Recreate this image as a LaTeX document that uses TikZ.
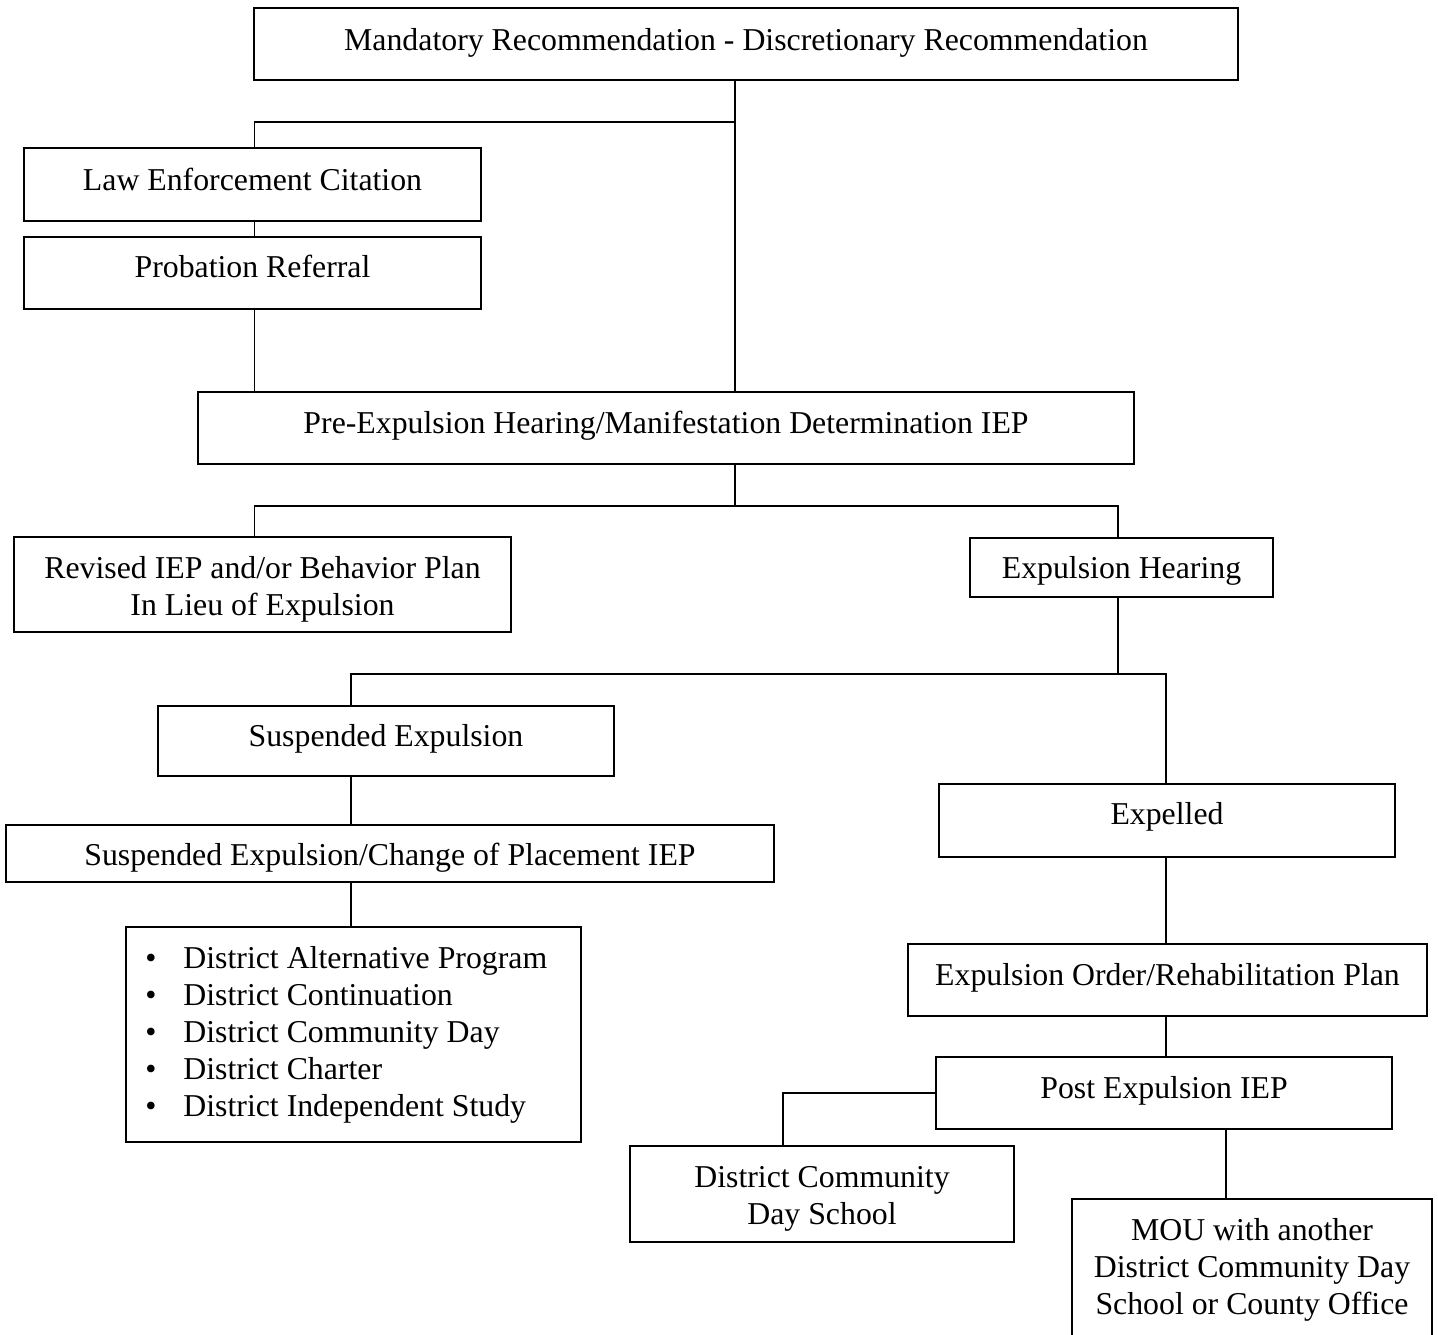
\documentclass[tikz,border=0pt]{standalone}
\usepackage{fontspec}
\setmainfont{Liberation Serif}
\begin{document}
\begin{tikzpicture}[x=0.5pt,y=-0.5pt,
  box/.style={draw, line width=1.1pt, rectangle, inner sep=0pt},
  txt/.style={anchor=base, inner sep=0pt, font=\fontsize{15.9pt}{18.75pt}\selectfont},
  ltxt/.style={anchor=base west, inner sep=0pt, font=\fontsize{15.9pt}{18.75pt}\selectfont},
  conn/.style={line width=0.8pt}]
\useasboundingbox (0,0) rectangle (1438,1334);
\clip (0,0) rectangle (1438,1334);

% boxes
\node[box, minimum width=492pt, minimum height=36pt] (top) at (746,44) {};
\node[box, minimum width=228.5pt, minimum height=36.5pt] (le) at (252.5,184.5) {};
\node[box, minimum width=228.5pt, minimum height=36pt] (pr) at (252.5,273) {};
\node[box, minimum width=468pt, minimum height=36pt] (pre) at (666,428) {};
\node[box, minimum width=248.5pt, minimum height=47.5pt] (rev) at (262.5,584.5) {};
\node[box, minimum width=151.5pt, minimum height=29.5pt] (eh) at (1121.5,567.5) {};
\node[box, minimum width=228pt, minimum height=35pt] (se) at (386,741) {};
\node[box, minimum width=384pt, minimum height=28.5pt] (sec) at (390,853.5) {};
\node[box, minimum width=227.5pt, minimum height=107.5pt] (list) at (353.5,1034.5) {};
\node[box, minimum width=228pt, minimum height=36.5pt] (exp) at (1167,820.5) {};
\node[box, minimum width=259.5pt, minimum height=36pt] (eo) at (1167.5,980) {};
\node[box, minimum width=228pt, minimum height=36pt] (post) at (1164,1093) {};
\node[box, minimum width=192pt, minimum height=48pt] (dcds) at (822,1194) {};
\node[box, minimum width=180pt, minimum height=72.5pt] (mou) at (1252,1271.5) {};

% texts
\node[txt] (t1) at (746,50) {Mandatory Recommendation - Discretionary Recommendation};
\node[txt] (t2) at (252.5,190) {Law Enforcement Citation};
\node[txt] (t3) at (252.5,277) {Probation Referral};
\node[txt] (t4) at (666,433) {Pre-Expulsion Hearing/Manifestation Determination IEP};
\node[txt] (t5a) at (262.5,578) {Revised IEP and/or Behavior Plan};
\node[txt] (t5b) at (262.5,615) {In Lieu of Expulsion};
\node[txt] (t6) at (1121.5,578) {Expulsion Hearing};
\node[txt] (t7) at (386,746) {Suspended Expulsion};
\node[txt] (t8) at (390,865) {Suspended Expulsion/Change of Placement IEP};
\node[txt] (b1) at (151,968) {\textbullet};
\node[txt] (b2) at (151,1005) {\textbullet};
\node[txt] (b3) at (151,1042) {\textbullet};
\node[txt] (b4) at (151,1079) {\textbullet};
\node[txt] (b5) at (151,1116) {\textbullet};
\node[ltxt] (l1) at (183,968) {District Alternative Program};
\node[ltxt] (l2) at (183,1005) {District Continuation};
\node[ltxt] (l3) at (183,1042) {District Community Day};
\node[ltxt] (l4) at (183,1079) {District Charter};
\node[ltxt] (l5) at (183,1116) {District Independent Study};
\node[txt] (t10) at (1167,824) {Expelled};
\node[txt] (t11) at (1167.5,985) {Expulsion Order/Rehabilitation Plan};
\node[txt] (t12) at (1164,1098) {Post Expulsion IEP};
\node[txt] (t13a) at (822,1187) {District Community};
\node[txt] (t13b) at (822,1224) {Day School};
\node[txt] (t14a) at (1252,1240) {MOU with another};
\node[txt] (t14b) at (1252,1277) {District Community Day};
\node[txt] (t14c) at (1252,1314) {School or County Office};

% line positions
\coordinate (xa) at (254.5,0);
\coordinate (xb) at (735,0);
\coordinate (xc) at (1118,0);
\coordinate (xd) at (351,0);
\coordinate (xe) at (1166,0);
\coordinate (xf) at (783,0);
\coordinate (xg) at (1226,0);
\coordinate (j1) at (735,122);
\coordinate (j2) at (735,506);
\coordinate (j3) at (1118,674);

% connectors
\draw[conn] (top.south -| xb) -- (pre.north -| xb);
\draw[conn] (j1) -| (le.north -| xa);
\draw[conn] (le.south -| xa) -- (pr.north -| xa);
\draw[conn] (pr.south -| xa) -- (pre.north -| xa);
\draw[conn] (pre.south -| xb) -- (j2);
\draw[conn] (rev.north -| xa) |- (j2) -| (eh.north -| xc);
\draw[conn] (eh.south -| xc) -- (j3);
\draw[conn] (se.north -| xd) |- (j3) -| (exp.north -| xe);
\draw[conn] (se.south -| xd) -- (sec.north -| xd);
\draw[conn] (sec.south -| xd) -- (list.north -| xd);
\draw[conn] (exp.south -| xe) -- (eo.north -| xe);
\draw[conn] (eo.south -| xe) -- (post.north -| xe);
\draw[conn] (post.west) -| (dcds.north -| xf);
\draw[conn] (post.south -| xg) -- (mou.north -| xg);
\end{tikzpicture}
\end{document}
